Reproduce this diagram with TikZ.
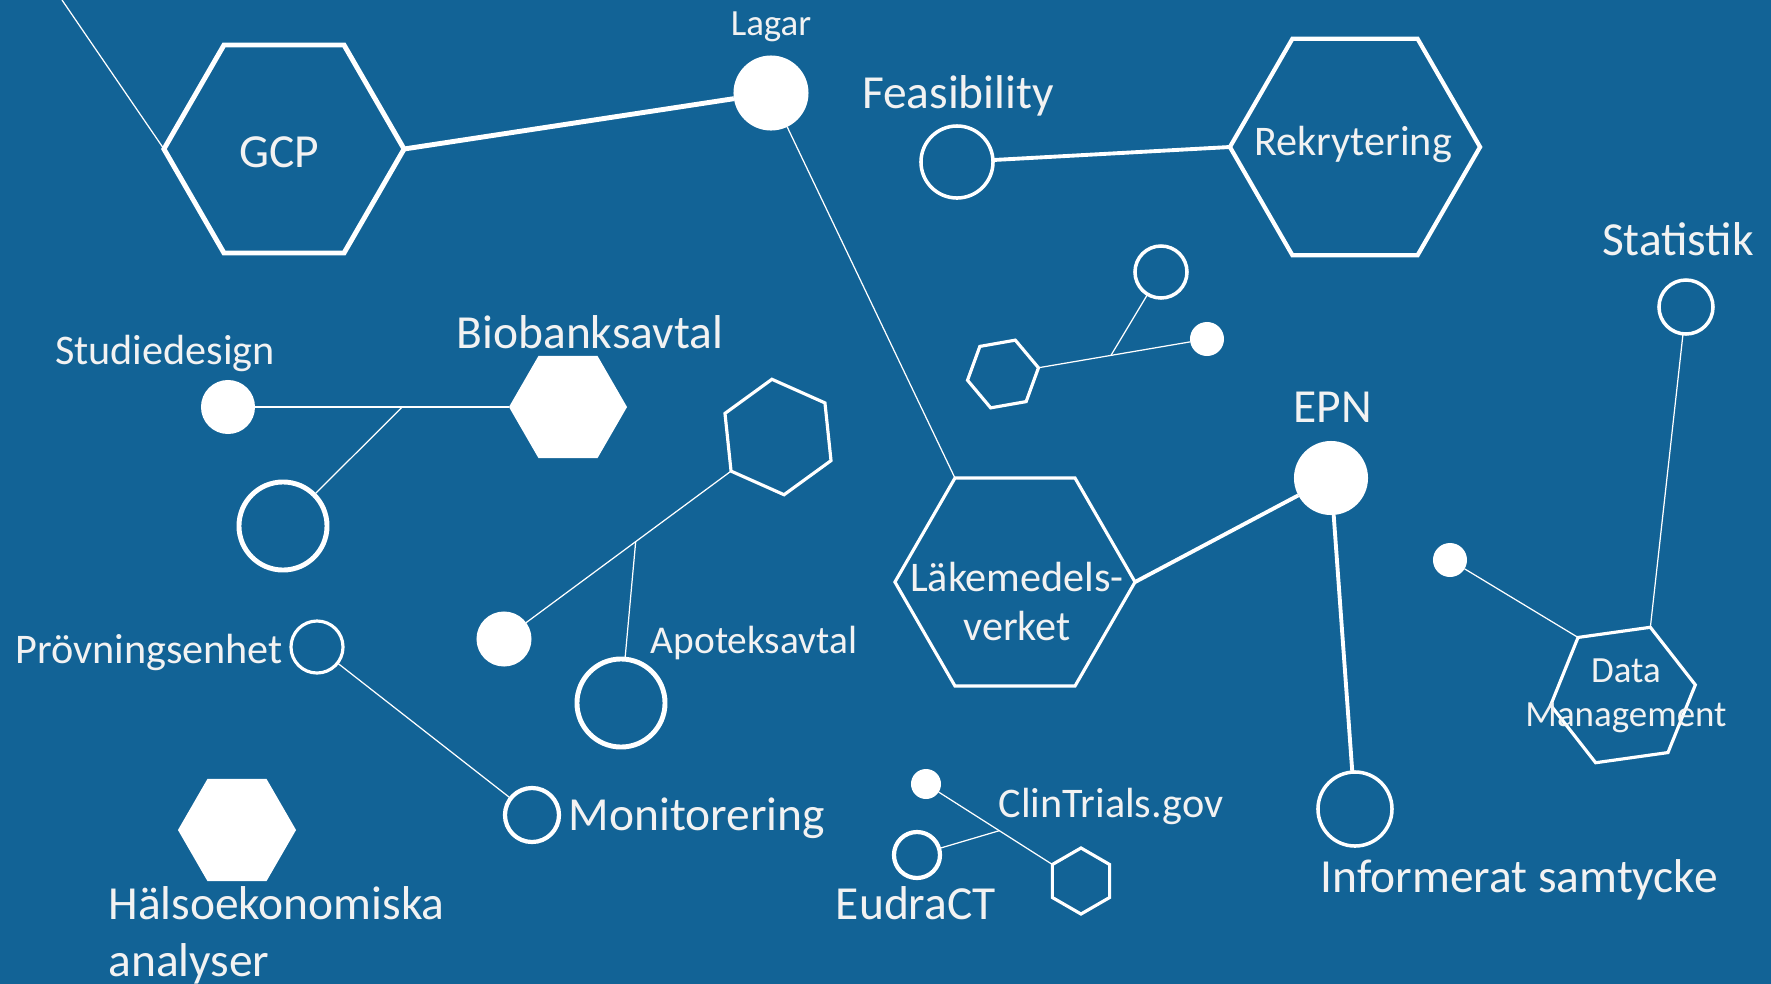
\documentclass[tikz,border=0pt]{standalone}
\usepackage{fontspec}
\setmainfont{Carlito}
\usetikzlibrary{shapes.geometric}
\usetikzlibrary{calc}
\definecolor{back}{RGB}{18,99,150}
\definecolor{ink}{RGB}{242,242,242}

\tikzset{
  hexa/.style={regular polygon, regular polygon sides=6, draw=white, inner sep=0pt, outer sep=0pt},
  dotf/.style={circle, fill=white, inner sep=0pt, outer sep=0pt},
  doto/.style={circle, draw=white, inner sep=0pt, outer sep=0pt},
  lblbig/.style={text=ink, font=\fontsize{13.5}{16.2}\selectfont, anchor=base},
  lblmid/.style={text=ink, font=\fontsize{12}{13.7}\selectfont, anchor=base},
  lblsmall/.style={text=ink, font=\fontsize{10.5}{12.5}\selectfont, anchor=base},
  wirethick/.style={draw=white, line width=1.4pt},
  wiremid/.style={draw=white, line width=1.1pt},
  wirethin/.style={draw=white, line width=0.35pt}
}

\begin{document}
\begin{tikzpicture}[x=0.01cm, y=-0.01cm]
\useasboundingbox (0,0) rectangle (1771,984);
\fill[back] (0,0) rectangle (1771,984);

\coordinate (edge) at (62,0);
\node[hexa, line width=1.4pt, minimum size=2.4cm] (gcp) at (284,149) {};
\node[lblbig] (gcptxt) at (279,167) {GCP};
\node[dotf, minimum size=0.75cm] (lagar) at (771,93) {};
\node[lblsmall] (lagartxt) at (771,35) {Lagar};
\node[doto, line width=1pt, minimum size=0.72cm] (feas) at (957,162) {};
\node[lblbig] (feastxt) at (958,108) {Feasibility};
\node[hexa, line width=1.2pt, minimum size=2.5cm] (rek) at (1355,147) {};
\node[lblmid] (rektxt) at (1353,155) {Rekrytering};
\draw[wirethin] (edge) -- (gcp.180);
\draw[wirethick] (gcp.0) -- (lagar);
\draw[wiremid] (feas) -- (rek.180);

\node[lblbig] (stattxt) at (1678,255) {Statistik};
\node[doto, line width=1pt, minimum size=0.54cm] (stat) at (1686,307) {};

\node[doto, line width=1pt, minimum size=0.52cm] (c1) at (1161,272) {};
\node[dotf, minimum size=0.34cm] (c2) at (1207,339) {};
\node[hexa, line width=0.9pt, shape border rotate=10, minimum size=0.72cm] (h1) at (1003,374) {};
\coordinate (j1) at ($(h1.10)!0.43!(c2)$);
\draw[wirethin] (h1.10) -- (c2);
\draw[wirethin] (j1) -- (c1);

\node[lblmid] (sdtxt) at (165,364) {Studiedesign};
\node[dotf, minimum size=0.54cm] (sd) at (228,407) {};
\node[hexa, draw=none, fill=white, minimum size=1.18cm] (bio) at (568,407) {};
\node[lblbig] (biotxt) at (590,348) {Biobanksavtal};
\node[doto, line width=1.4pt, minimum size=0.88cm] (sdc) at (283,526) {};
\coordinate (j2) at ($(sd)!0.62!(bio.180)$);
\draw[wirethin] (sd) -- (bio.180);
\draw[wirethin] (j2) -- (sdc);

\node[hexa, line width=0.9pt, shape border rotate=36, minimum size=1.16cm] (apo) at (778,437) {};
\node[dotf, minimum size=0.55cm] (apf) at (504,639) {};
\node[doto, line width=1.4pt, minimum size=0.88cm] (apc) at (621,703) {};
\node[lblmid, font=\fontsize{11.2}{13}\selectfont] (apotxt) at (754,653) {Apoteksavtal};
\coordinate (j3) at ($(apf)!0.58!(apo.216)$);
\draw[wirethin] (apf) -- (apo.216);
\draw[wirethin] (j3) -- (apc);

\node[lblmid] (petxt) at (149,663) {Prövningsenhet};
\node[doto, line width=0.9pt, minimum size=0.52cm] (pe) at (317,647) {};
\node[doto, line width=1.2pt, minimum size=0.54cm] (mon) at (532,815) {};
\node[lblbig] (montxt) at (697,830) {Monitorering};
\draw[wirethin] (pe) -- (mon);

\node[hexa, draw=none, fill=white, minimum size=1.18cm] (halso) at (237,830) {};
\node[lblbig, anchor=base west, align=left] (halsotxt) at (96,976) {Hälsoekonomiska\\analyser};

\node[hexa, line width=0.9pt, minimum size=2.4cm] (lmv) at (1015,582) {};
\node[lblmid, align=center] (lmvtxt) at (1017,640) {Läkemedels-\\verket};
\node[dotf, minimum size=0.74cm] (epn) at (1331,478) {};
\node[lblbig] (epntxt) at (1333,422) {EPN};
\node[doto, line width=1pt, minimum size=0.74cm] (inf) at (1355,809) {};
\node[lblbig] (inftxt) at (1519,892) {Informerat samtycke};
\draw[wirethin] (lagar) -- (lmv.120);
\draw[wiremid] (lmv.0) -- (epn);
\draw[wiremid] (epn) -- (inf);

\node[hexa, line width=0.9pt, shape border rotate=8, minimum size=1.46cm] (dm) at (1623,695) {};
\node[lblsmall, align=center] (dmtxt) at (1626,726) {Data\\Management};
\node[dotf, minimum size=0.34cm] (dmf) at (1450,560) {};
\draw[wirethin] (dmf) -- (dm.128);
\draw[wirethin] (stat) -- (dm.68);

\node[dotf, minimum size=0.30cm] (ct) at (926,784) {};
\node[hexa, line width=0.9pt, shape border rotate=30, minimum size=0.66cm] (h2) at (1081,881) {};
\node[doto, line width=1.2pt, minimum size=0.46cm] (eu) at (917,855) {};
\node[lblmid] (cttxt) at (1111,817) {ClinTrials.gov};
\node[lblbig] (eutxt) at (916,919) {EudraCT};
\coordinate (j4) at ($(ct)!0.58!(h2.150)$);
\draw[wirethin] (ct) -- (h2.150);
\draw[wirethin] (j4) -- (eu);
\end{tikzpicture}
\end{document}
